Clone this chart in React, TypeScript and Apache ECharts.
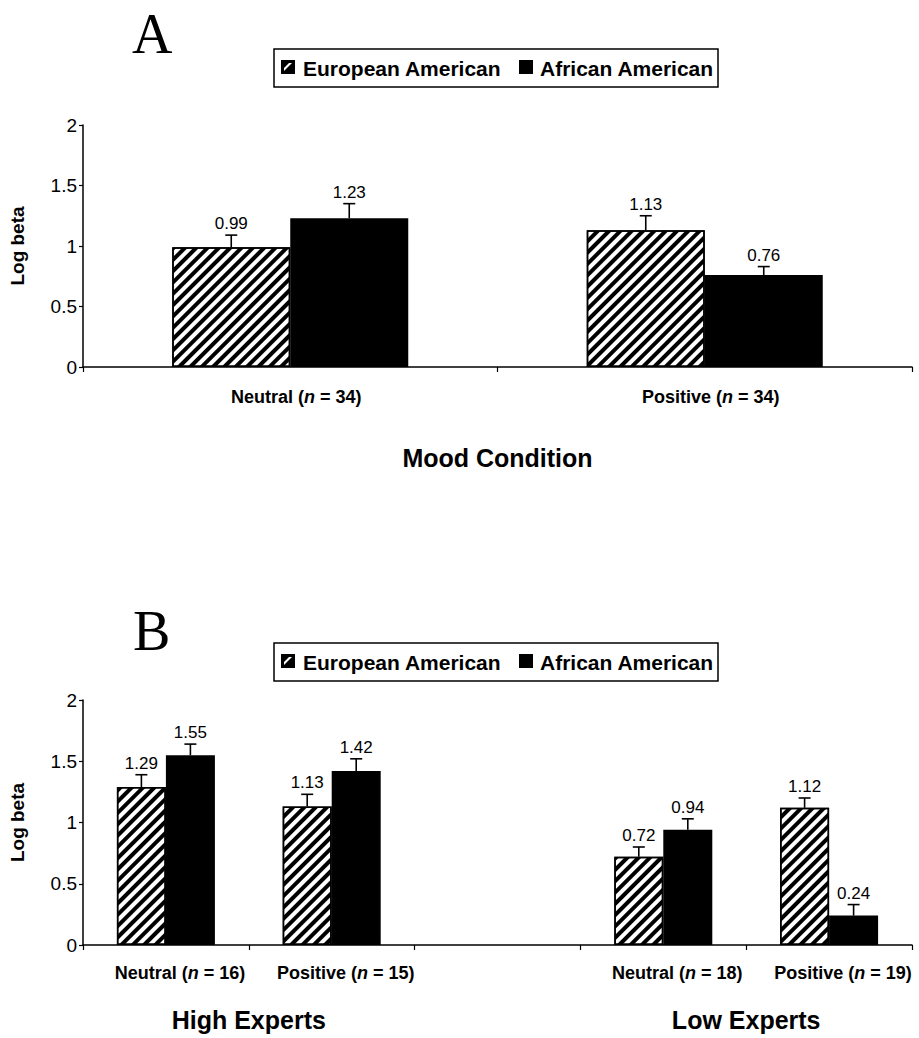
import React, { useEffect, useRef } from "react";
import * as echarts from "echarts";

const FONT = "'Liberation Sans', Arial, Helvetica, sans-serif";
const SERIF = "'Liberation Serif', 'Times New Roman', serif";

const SERIES_NAMES = ["European American", "African American"];

// Panel A
const CATS_A = ["Neutral (n = 34)", "Positive (n = 34)"];
const EA_A = [0.99, 1.13];
const AA_A = [1.23, 0.76];
const EA_A_ERR = [0.1, 0.12];
const AA_A_ERR = [0.12, 0.07];

// Panel B
const CATS_B = ["Neutral (n = 16)", "Positive (n = 15)", "", "Neutral (n = 18)", "Positive (n = 19)"];
const GROUPS_B = ["", "High Experts", "", "", "Low Experts", ""];
const EA_B: (number | null)[] = [1.29, 1.13, null, 0.72, 1.12];
const AA_B: (number | null)[] = [1.55, 1.42, null, 0.94, 0.24];
const EA_B_ERR: (number | null)[] = [0.1, 0.1, null, 0.08, 0.08];
const AA_B_ERR: (number | null)[] = [0.09, 0.1, null, 0.09, 0.09];

const Y_MIN = 0;
const Y_MAX = 2;
const Y_STEP = 0.5;

const BAR_W_A = 118;
const BAR_W_B = 49;

const hatch = {
  symbol: "rect",
  symbolSize: 1,
  color: "#000",
  backgroundColor: "#fff",
  dashArrayX: [1, 0],
  dashArrayY: [3.5, 3.5],
  rotation: -Math.PI / 4,
};

function errSeries(xi: number, yi: number, vals: (number | null)[], errs: (number | null)[], offset: number) {
  const data = vals
    .map((v, i) => (v == null ? null : [i, v, errs[i] as number]))
    .filter((d) => d !== null);
  return {
    type: "custom",
    xAxisIndex: xi,
    yAxisIndex: yi,
    z: 5,
    silent: true,
    data,
    encode: { x: 0, y: 1 },
    renderItem: (_params: any, api: any) => {
      const c = api.value(0);
      const v = api.value(1);
      const e = api.value(2);
      const base = api.coord([c, v]);
      const top = api.coord([c, v + e]);
      const x = base[0] + offset;
      return {
        type: "group",
        children: [
          { type: "line", shape: { x1: x, y1: base[1], x2: x, y2: top[1] }, style: { stroke: "#000", lineWidth: 1.6 } },
          { type: "line", shape: { x1: x - 6, y1: top[1], x2: x + 6, y2: top[1] }, style: { stroke: "#000", lineWidth: 1.6 } },
          {
            type: "text",
            style: {
              text: v.toFixed(2),
              x,
              y: top[1] - 3,
              align: "center",
              verticalAlign: "bottom",
              fontSize: 17,
              fontFamily: FONT,
              fill: "#000",
            },
          },
        ],
      };
    },
  };
}

function legendGroup(top: number) {
  const boxTop = top;
  return {
    type: "group",
    children: [
      { type: "rect", shape: { x: 274, y: boxTop, width: 444, height: 38 }, style: { fill: "#fff", stroke: "#000", lineWidth: 1.5 } },
      { type: "rect", shape: { x: 281, y: boxTop + 11, width: 14, height: 14 }, style: { fill: "#000" } },
      {
        type: "polygon",
        shape: {
          points: [
            [284, boxTop + 22],
            [284, boxTop + 19],
            [289, boxTop + 14],
            [292, boxTop + 14],
          ],
        },
        style: { fill: "#fff" },
      },
      {
        type: "text",
        style: { text: SERIES_NAMES[0], x: 303, y: boxTop + 19, verticalAlign: "middle", fontSize: 21, fontWeight: "bold", fontFamily: FONT, fill: "#000" },
      },
      { type: "rect", shape: { x: 519, y: boxTop + 11, width: 14, height: 14 }, style: { fill: "#000" } },
      {
        type: "text",
        style: { text: SERIES_NAMES[1], x: 540, y: boxTop + 19, verticalAlign: "middle", fontSize: 21, fontWeight: "bold", fontFamily: FONT, fill: "#000" },
      },
    ],
  };
}

const catLabel = (pad: number[]) => ({
  interval: 0,
  fontSize: 18,
  fontWeight: "bold",
  fontFamily: FONT,
  color: "#000",
  padding: pad,
  formatter: (v: string) => v.replace("(n =", "({i|n} ="),
  rich: { i: { fontStyle: "italic", fontWeight: "bold", fontSize: 18, fontFamily: FONT, color: "#000" } },
});

const yAxisCommon = (gridIndex: number) => ({
  type: "value",
  gridIndex,
  min: Y_MIN,
  max: Y_MAX,
  interval: Y_STEP,
  name: "Log beta",
  nameLocation: "middle",
  nameRotate: 90,
  nameGap: 56,
  nameTextStyle: { fontSize: 19, fontWeight: "bold", fontFamily: FONT, color: "#000" },
  axisLine: { show: true, lineStyle: { color: "#000", width: 1.5 } },
  axisTick: { show: true, length: 4, lineStyle: { color: "#000", width: 1.2 } },
  axisLabel: { fontSize: 19, fontFamily: FONT, color: "#000", margin: 6 },
  splitLine: { show: false },
});

export default function App() {
  const ref = useRef<HTMLDivElement>(null);
  useEffect(() => {
    if (!ref.current) return;
    const chart = echarts.init(ref.current, null, { renderer: "svg" });
    const option: any = {
      animation: false,
      backgroundColor: "#fff",
      grid: [
        { left: 83, top: 125, width: 829, height: 242 },
        { left: 82, top: 700, width: 830, height: 245 },
      ],
      xAxis: [
        {
          type: "category",
          gridIndex: 0,
          data: CATS_A,
          name: "Mood Condition",
          nameLocation: "middle",
          nameGap: 78,
          nameTextStyle: { fontSize: 25, fontWeight: "bold", fontFamily: FONT, color: "#000" },
          axisLine: { lineStyle: { color: "#000", width: 1.5 } },
          axisTick: { show: true, length: 5, lineStyle: { color: "#000", width: 1.2 } },
          axisLabel: { ...catLabel([0, 0, 0, 12]), margin: 21 },
        },
        {
          type: "category",
          gridIndex: 1,
          data: CATS_B,
          axisLine: { lineStyle: { color: "#000", width: 1.5 } },
          axisTick: { show: true, length: 5, lineStyle: { color: "#000", width: 1.2 } },
          axisLabel: { ...catLabel([0, 0, 0, 28]), margin: 19 },
        },
        {
          type: "category",
          gridIndex: 1,
          position: "bottom",
          boundaryGap: false,
          data: GROUPS_B,
          axisLine: { show: false },
          axisTick: { show: false },
          axisLabel: { interval: 0, fontSize: 25, fontWeight: "bold", fontFamily: FONT, color: "#000", margin: 62 },
        },
      ],
      yAxis: [yAxisCommon(0), yAxisCommon(1)],
      series: [
        {
          name: SERIES_NAMES[0],
          type: "bar",
          xAxisIndex: 0,
          yAxisIndex: 0,
          data: EA_A,
          barWidth: BAR_W_A,
          barGap: "0%",
          itemStyle: { color: "#fff", borderColor: "#000", borderWidth: 1.5, decal: hatch },
        },
        {
          name: SERIES_NAMES[1],
          type: "bar",
          xAxisIndex: 0,
          yAxisIndex: 0,
          data: AA_A,
          barWidth: BAR_W_A,
          barGap: "0%",
          itemStyle: { color: "#000", borderColor: "#000", borderWidth: 1.5 },
        },
        {
          name: SERIES_NAMES[0],
          type: "bar",
          xAxisIndex: 1,
          yAxisIndex: 1,
          data: EA_B.map((v) => (v == null ? "-" : v)),
          barWidth: BAR_W_B,
          barGap: "0%",
          itemStyle: { color: "#fff", borderColor: "#000", borderWidth: 1.5, decal: hatch },
        },
        {
          name: SERIES_NAMES[1],
          type: "bar",
          xAxisIndex: 1,
          yAxisIndex: 1,
          data: AA_B.map((v) => (v == null ? "-" : v)),
          barWidth: BAR_W_B,
          barGap: "0%",
          itemStyle: { color: "#000", borderColor: "#000", borderWidth: 1.5 },
        },
        errSeries(0, 0, EA_A, EA_A_ERR, -BAR_W_A / 2),
        errSeries(0, 0, AA_A, AA_A_ERR, BAR_W_A / 2),
        errSeries(1, 1, EA_B, EA_B_ERR, -BAR_W_B / 2),
        errSeries(1, 1, AA_B, AA_B_ERR, BAR_W_B / 2),
      ],
      graphic: [
        { type: "text", left: 132, top: 6, style: { text: "A", fontSize: 56, fontFamily: SERIF, fill: "#000" } },
        { type: "text", left: 133, top: 603, style: { text: "B", fontSize: 56, fontFamily: SERIF, fill: "#000" } },
        legendGroup(49),
        legendGroup(643),
      ],
    };
    chart.setOption(option);
    return () => chart.dispose();
  }, []);
  return (
    <div
      ref={ref}
      style={{ position: "absolute", left: 0, top: 0, width: 919, height: 1038, background: "#fff" }}
    />
  );
}
